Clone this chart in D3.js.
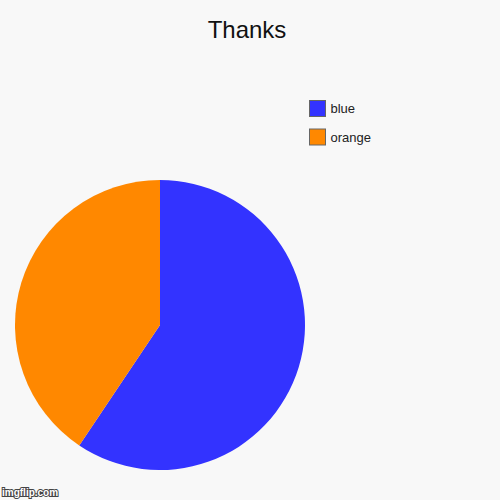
<!DOCTYPE html>
<html>
<head>
<meta charset="utf-8">
<script src="https://cdn.jsdelivr.net/npm/d3@7"></script>
<style>
  html, body { margin: 0; padding: 0; background: #f8f8f8; }
  svg { display: block; font-family: "Liberation Sans", Arial, sans-serif; }
</style>
</head>
<body>
<svg id="chart" width="500" height="500"></svg>
<script>
// slice data
const labels = ["blue", "orange"];
const values = [59.4, 40.6];
const colors = ["#3333ff", "#ff8800"];

const svg = d3.select("#chart");
const width = 500, height = 500;

svg.append("rect")
  .attr("width", width)
  .attr("height", height)
  .attr("fill", "#f8f8f8");

// title
svg.append("text")
  .attr("x", 247)
  .attr("y", 38)
  .attr("text-anchor", "middle")
  .attr("font-size", 24)
  .attr("fill", "#111")
  .text("Thanks");

const color = d3.scaleOrdinal().domain(labels).range(colors);

const pie = d3.pie()
  .sort(null)
  .value(d => d.value);

const arc = d3.arc()
  .innerRadius(0)
  .outerRadius(145);

const slices = pie(labels.map((l, i) => ({ label: l, value: values[i] })));

const g = svg.append("g")
  .attr("transform", "translate(160,325)");

g.selectAll("path")
  .data(slices)
  .enter().append("path")
  .attr("d", arc)
  .attr("fill", d => color(d.data.label));

// legend
const legend = svg.append("g")
  .attr("transform", "translate(309.5,100.5)");

labels.forEach((name, i) => {
  const item = legend.append("g")
    .attr("transform", `translate(0,${i * 28.5})`);

  item.append("rect")
    .attr("width", 16)
    .attr("height", 16)
    .attr("fill", color(name))
    .attr("stroke", "#666")
    .attr("stroke-width", 1);

  item.append("text")
    .attr("x", 21)
    .attr("y", 12.5)
    .attr("font-size", 13)
    .attr("fill", "#222")
    .text(name);
});

// watermark
svg.append("text")
  .attr("x", 2)
  .attr("y", 496)
  .attr("font-size", 10)
  .attr("font-weight", "bold")
  .attr("fill", "#fff")
  .attr("stroke", "#444")
  .attr("stroke-width", 2)
  .attr("paint-order", "stroke")
  .text("imgflip.com");
</script>
</body>
</html>
